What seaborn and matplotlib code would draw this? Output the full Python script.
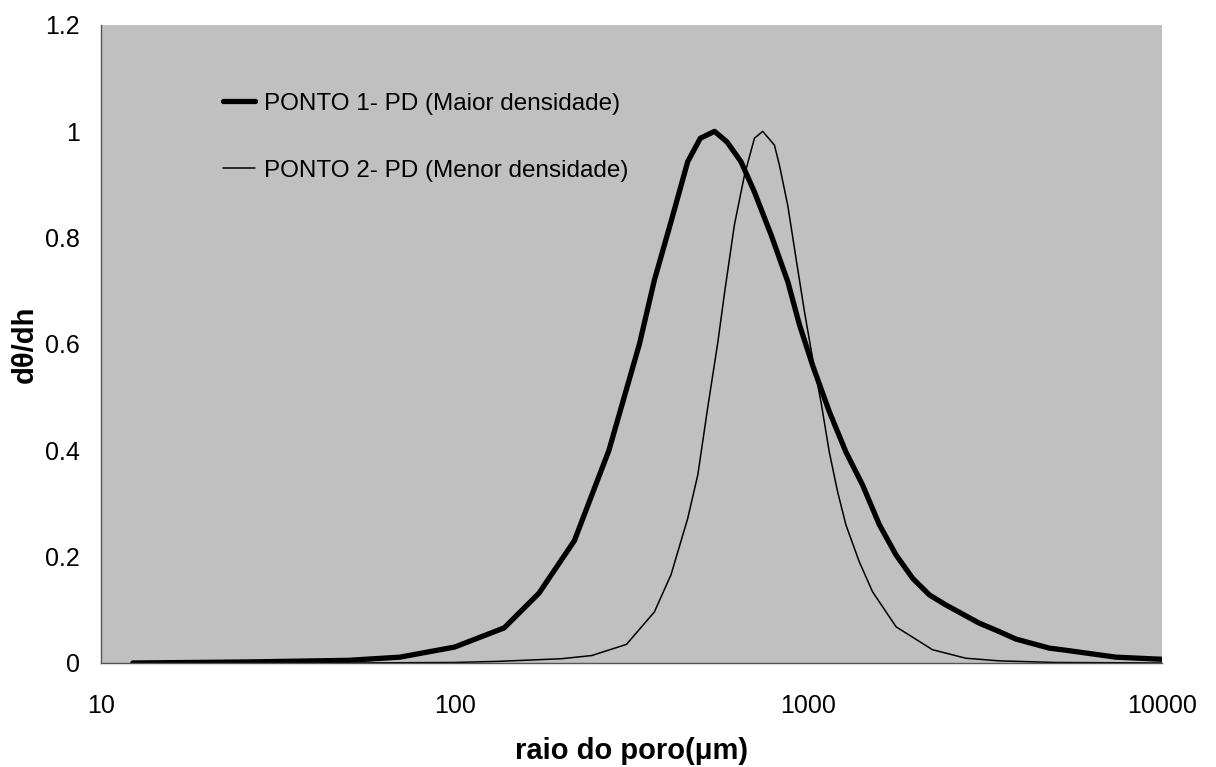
import matplotlib
matplotlib.use("Agg")
import matplotlib.pyplot as plt
import seaborn as sns
import pandas as pd
from matplotlib.ticker import FixedLocator, NullLocator, FixedFormatter

# Data
raio_p1 = [12.3, 26, 50, 70, 100, 138, 173, 218, 273, 333, 367, 409, 456, 495,
           543, 589, 645, 704, 785, 875, 944, 1028, 1146, 1277, 1423, 1588,
           1771, 1974, 2200, 2451, 3042, 3468, 3864, 4800, 5346, 7400, 10000]
dtheta_p1 = [0.0, 0.002, 0.005, 0.011, 0.03, 0.066, 0.131, 0.23, 0.40, 0.60,
             0.72, 0.83, 0.943, 0.987, 1.0, 0.98, 0.943, 0.886, 0.805, 0.717,
             0.636, 0.56, 0.473, 0.397, 0.335, 0.26, 0.203, 0.159, 0.128,
             0.109, 0.075, 0.059, 0.045, 0.028, 0.024, 0.011, 0.007]

raio_p2 = [12.3, 50, 100, 132, 200, 244, 306, 367, 409, 456, 487, 519, 555,
           580, 618, 660, 704, 743, 802, 828, 875, 923, 975, 1028, 1086, 1146,
           1210, 1277, 1392, 1519, 1771, 2244, 2786, 3468, 5000, 10000]
dtheta_p2 = [0.0, 0.0, 0.001, 0.003, 0.008, 0.014, 0.035, 0.096, 0.166, 0.272,
             0.354, 0.479, 0.604, 0.698, 0.824, 0.918, 0.987, 1.0, 0.974,
             0.937, 0.86, 0.761, 0.661, 0.573, 0.491, 0.397, 0.322, 0.26,
             0.191, 0.134, 0.068, 0.025, 0.009, 0.004, 0.001, 0.0]

label_p1 = "PONTO 1- PD (Maior densidade)"
label_p2 = "PONTO 2- PD (Menor densidade)"
x_ticks = [10, 100, 1000, 10000]
x_ticklabels = ["10", "100", "1000", "10000"]
y_ticks = [0, 0.2, 0.4, 0.6, 0.8, 1.0, 1.2]
y_ticklabels = ["0", "0.2", "0.4", "0.6", "0.8", "1", "1.2"]

df1 = pd.DataFrame({"raio": raio_p1, "dtheta": dtheta_p1})
df2 = pd.DataFrame({"raio": raio_p2, "dtheta": dtheta_p2})

sns.set_style("white")
plt.rcParams["font.family"] = ["Liberation Sans", "DejaVu Sans"]
plt.rcParams["text.color"] = "black"
plt.rcParams["axes.labelcolor"] = "black"

fig = plt.figure(figsize=(12.16, 7.67), dpi=100)
ax = fig.add_axes([101/1216, 104/767, (1162-101)/1216, (663-25)/767])
ax.set_facecolor("#C0C0C0")

sns.lineplot(data=df1, x="raio", y="dtheta", ax=ax, color="black",
             linewidth=3.8, label=label_p1, sort=False)
sns.lineplot(data=df2, x="raio", y="dtheta", ax=ax, color="black",
             linewidth=1.1, label=label_p2, sort=False)

ax.set_xscale("log")
ax.set_xlim(10, 10000)
ax.set_ylim(0, 1.2)
ax.xaxis.set_major_locator(FixedLocator(x_ticks))
ax.xaxis.set_major_formatter(FixedFormatter(x_ticklabels))
ax.xaxis.set_minor_locator(NullLocator())
ax.set_yticks(y_ticks)
ax.set_yticklabels(y_ticklabels)

for s in ["top", "right"]:
    ax.spines[s].set_visible(False)
for s in ["left", "bottom"]:
    ax.spines[s].set_color("#555555")
    ax.spines[s].set_linewidth(1.0)

ax.tick_params(axis="both", which="major", direction="out", length=6,
               width=1.0, color="#666666", labelsize=18, labelcolor="black")
ax.tick_params(axis="x", pad=16)
ax.tick_params(axis="y", pad=9)

ax.set_xlabel("raio do poro(\u03bcm)", fontsize=21, fontweight="bold",
              labelpad=14, color="black")
ax.set_ylabel("d\u03b8/dh", fontsize=21, fontweight="bold", labelpad=5,
              color="black")

leg = ax.legend(loc="upper left", bbox_to_anchor=(0.115, 0.894), frameon=False,
                fontsize=17.5, handlelength=1.32, handletextpad=0.36,
                labelspacing=1.85, borderaxespad=0, borderpad=0)
for t in leg.get_texts():
    t.set_color("black")

fig.savefig("out.png", dpi=100)
